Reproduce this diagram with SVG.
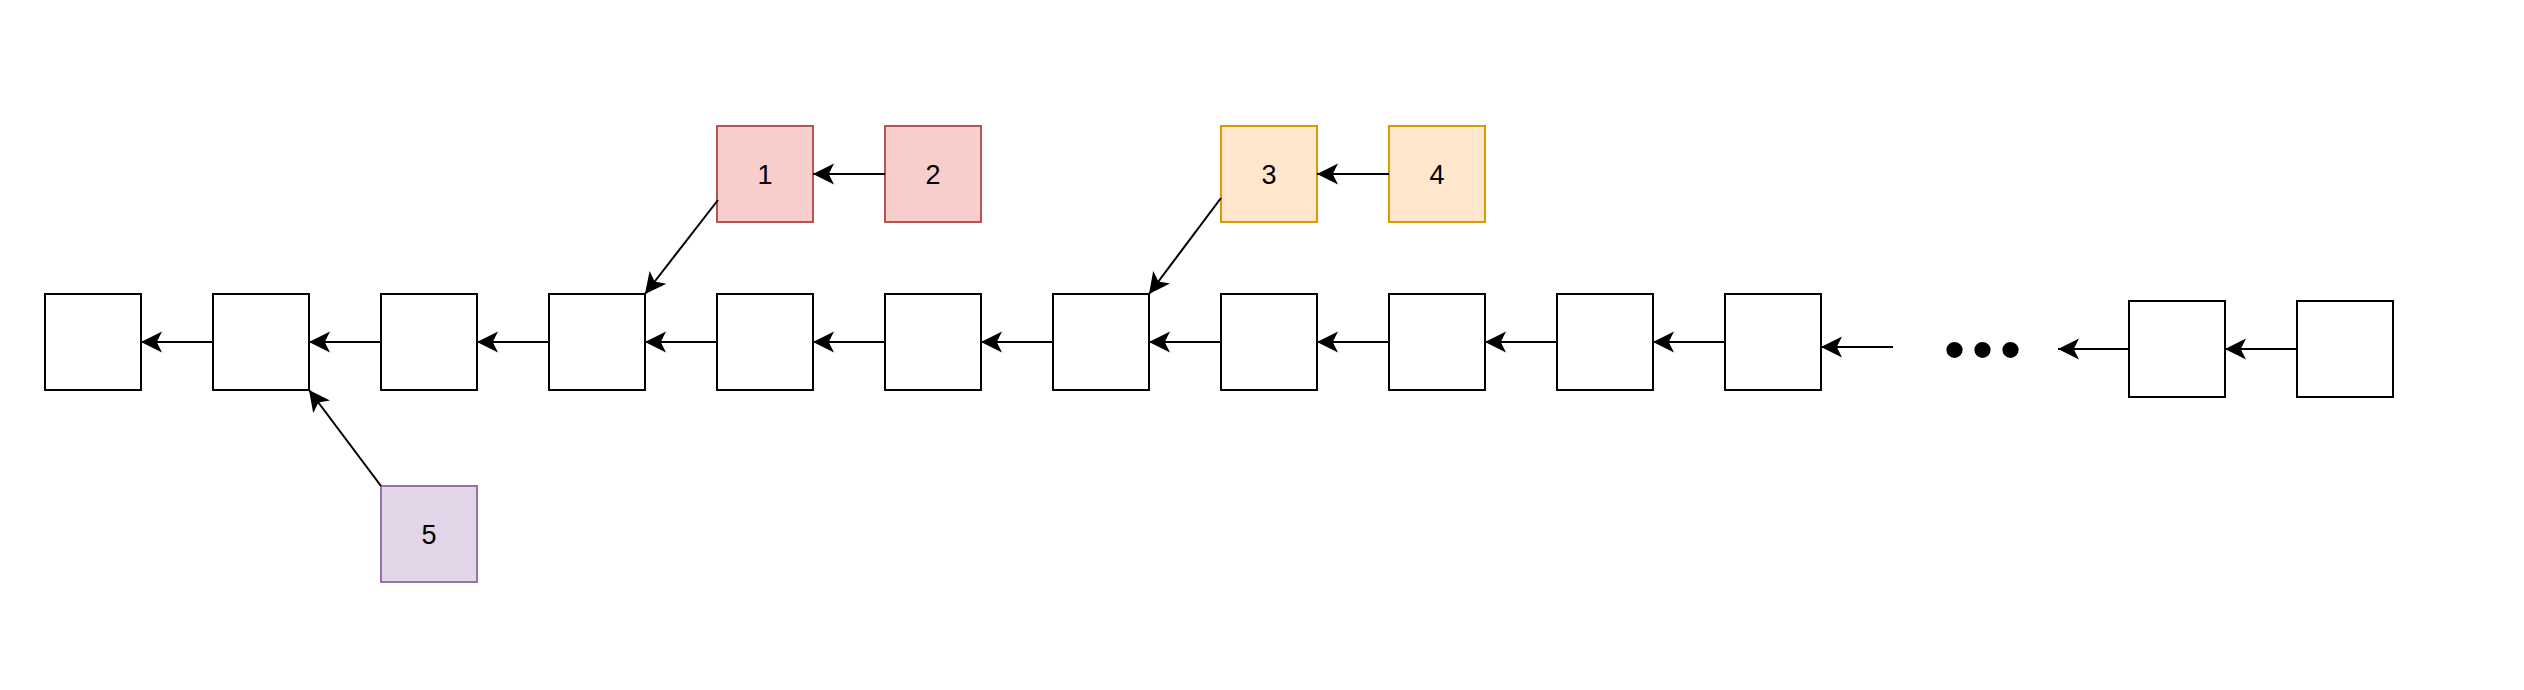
<svg xmlns="http://www.w3.org/2000/svg" width="2524" height="690" viewBox="0 0 2524 690">
  <style>
    .n rect { stroke-width: 2; }
    .plain rect { fill: #ffffff; stroke: #000000; }
    .red rect { fill: #f8cecc; stroke: #b85450; }
    .orange rect { fill: #ffe6cc; stroke: #d79b00; }
    .purple rect { fill: #e1d5e7; stroke: #9673a6; }
    .n text { font-family: "Liberation Sans", Arial, sans-serif; font-size: 27px; fill: #000000; text-anchor: middle; }
    .edges line { stroke: #000000; stroke-width: 2; fill: none; marker-end: url(#arrow); }
    .dots { font-family: "Liberation Sans", Arial, sans-serif; font-size: 60px; fill: #000000; }
  </style>
  <defs>
    <marker id="arrow" markerUnits="userSpaceOnUse" viewBox="0 -11 22 22" markerWidth="22" markerHeight="22" refX="21" refY="0" orient="auto">
      <path d="M21,0 L0,-10.5 L5.25,0 L0,10.5 Z" fill="#000000"/>
    </marker>
  </defs>
  <rect x="0" y="0" width="2524" height="690" fill="#ffffff"/>

  <g id="b0" class="n plain"><rect x="45" y="294" width="96" height="96"/></g>
  <g id="b1" class="n plain"><rect x="213" y="294" width="96" height="96"/></g>
  <g id="b2" class="n plain"><rect x="381" y="294" width="96" height="96"/></g>
  <g id="b3" class="n plain"><rect x="549" y="294" width="96" height="96"/></g>
  <g id="b4" class="n plain"><rect x="717" y="294" width="96" height="96"/></g>
  <g id="b5" class="n plain"><rect x="885" y="294" width="96" height="96"/></g>
  <g id="b6" class="n plain"><rect x="1053" y="294" width="96" height="96"/></g>
  <g id="b7" class="n plain"><rect x="1221" y="294" width="96" height="96"/></g>
  <g id="b8" class="n plain"><rect x="1389" y="294" width="96" height="96"/></g>
  <g id="b9" class="n plain"><rect x="1557" y="294" width="96" height="96"/></g>
  <g id="b10" class="n plain"><rect x="1725" y="294" width="96" height="96"/></g>
  <g id="b11" class="n plain"><rect x="2129" y="301" width="96" height="96"/></g>
  <g id="b12" class="n plain"><rect x="2297" y="301" width="96" height="96"/></g>

  <g id="n1" class="n red"><rect x="717" y="126" width="96" height="96"/><text x="765" y="184">1</text></g>
  <g id="n2" class="n red"><rect x="885" y="126" width="96" height="96"/><text x="933" y="184">2</text></g>
  <g id="n3" class="n orange"><rect x="1221" y="126" width="96" height="96"/><text x="1269" y="184">3</text></g>
  <g id="n4" class="n orange"><rect x="1389" y="126" width="96" height="96"/><text x="1437" y="184">4</text></g>
  <g id="n5" class="n purple"><rect x="381" y="486" width="96" height="96"/><text x="429" y="544">5</text></g>

  <g id="ellipsis"><text class="dots" x="1944" y="370" letter-spacing="7">•••</text></g>

  <g id="connectors" class="edges">
    <line x1="213" y1="342" x2="141" y2="342"/>
    <line x1="381" y1="342" x2="309" y2="342"/>
    <line x1="549" y1="342" x2="477" y2="342"/>
    <line x1="717" y1="342" x2="645" y2="342"/>
    <line x1="885" y1="342" x2="813" y2="342"/>
    <line x1="1053" y1="342" x2="981" y2="342"/>
    <line x1="1221" y1="342" x2="1149" y2="342"/>
    <line x1="1389" y1="342" x2="1317" y2="342"/>
    <line x1="1557" y1="342" x2="1485" y2="342"/>
    <line x1="1725" y1="342" x2="1653" y2="342"/>
    <line x1="1893" y1="347" x2="1821" y2="347"/>
    <line x1="2129" y1="349" x2="2058" y2="349"/>
    <line x1="2297" y1="349" x2="2225" y2="349"/>
    <line x1="885" y1="174" x2="813" y2="174"/>
    <line x1="1389" y1="174" x2="1317" y2="174"/>
    <line x1="718" y1="200" x2="645" y2="294"/>
    <line x1="1221" y1="198" x2="1149" y2="294"/>
    <line x1="381" y1="486" x2="309" y2="390"/>
  </g>
</svg>
